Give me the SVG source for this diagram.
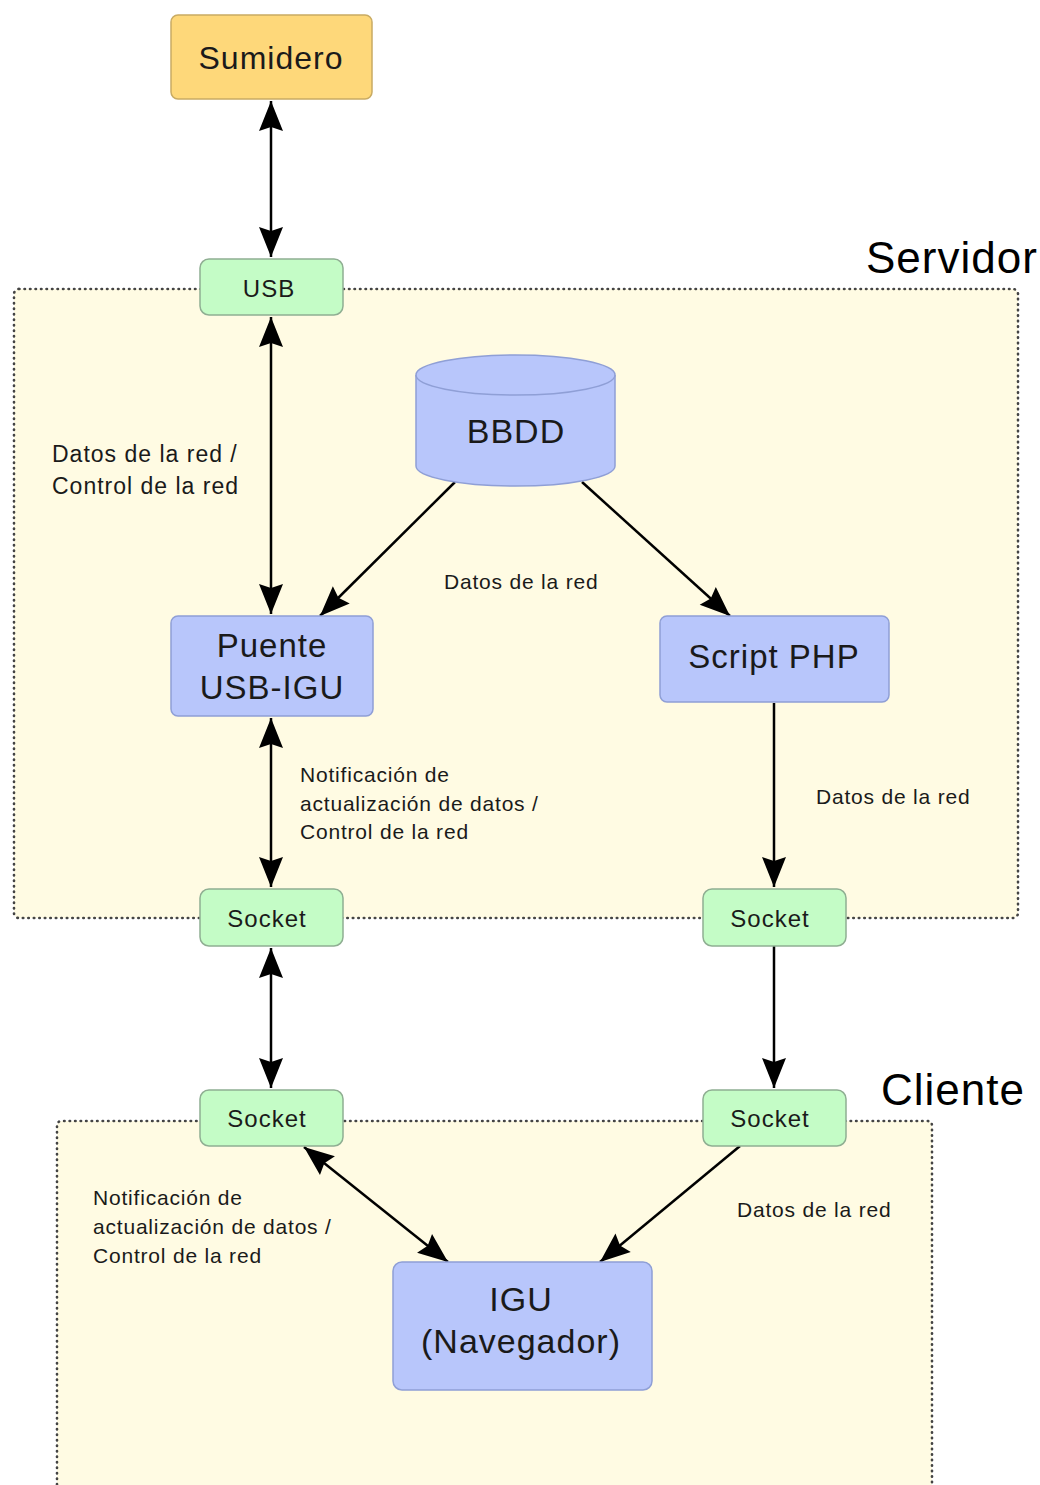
<svg xmlns="http://www.w3.org/2000/svg" width="1040" height="1485" viewBox="0 0 1040 1485">
  <style>
    .region { fill: #fffbe3; stroke: #444; stroke-width: 2.6; stroke-dasharray: 0.5 5; stroke-linecap: round; }
    .sink { fill: #fed87a; stroke: #c9ab63; stroke-width: 1.5; }
    .proc { fill: #b8c6fb; stroke: #8f9fd6; stroke-width: 1.5; }
    .port { fill: #c4fcc6; stroke: #8fae92; stroke-width: 1.5; }
    text { font-family: "Liberation Sans", Arial, sans-serif; fill: #1a1a1a; letter-spacing: 1px; }
    .big { font-size: 33px; text-anchor: middle; }
    .small { font-size: 24px; text-anchor: middle; }
    .lbl { font-size: 21px; letter-spacing: 0.8px; }
    .lbl2 { font-size: 23px; }
    .zone { font-size: 44px; fill: #000; }
    .edge { stroke: #000; stroke-width: 2.5; fill: none; }
  </style>
  <defs>
    <marker id="head" viewBox="-32 -14 34 28" refX="0" refY="0" markerWidth="34" markerHeight="28" markerUnits="userSpaceOnUse" orient="auto-start-reverse">
      <path d="M0,0 L-30,-12 L-26,0 L-30,12 Z" fill="#000"/>
    </marker>
  </defs>

  <!-- zones -->
  <rect class="region" x="14" y="289" width="1004" height="629" rx="5"/>
  <path class="region" d="M57,1490 V1126 Q57,1121 62,1121 H927 Q932,1121 932,1126 V1490"/>
  <text class="zone" x="866" y="273">Servidor</text>
  <text class="zone" x="881" y="1105">Cliente</text>

  <!-- connectors -->
  <g id="connectors">
    <line class="edge" x1="271" y1="101" x2="271" y2="257" marker-start="url(#head)" marker-end="url(#head)"/>
    <line class="edge" x1="271" y1="317" x2="271" y2="614" marker-start="url(#head)" marker-end="url(#head)"/>
    <line class="edge" x1="455" y1="482" x2="320" y2="616" marker-end="url(#head)"/>
    <line class="edge" x1="582" y1="482" x2="730" y2="616" marker-end="url(#head)"/>
    <line class="edge" x1="271" y1="718" x2="271" y2="887" marker-start="url(#head)" marker-end="url(#head)"/>
    <line class="edge" x1="774" y1="703" x2="774" y2="887" marker-end="url(#head)"/>
    <line class="edge" x1="271" y1="948" x2="271" y2="1088" marker-start="url(#head)" marker-end="url(#head)"/>
    <line class="edge" x1="774" y1="946" x2="774" y2="1088" marker-end="url(#head)"/>
    <line class="edge" x1="304" y1="1147" x2="448" y2="1262" marker-start="url(#head)" marker-end="url(#head)"/>
    <line class="edge" x1="740" y1="1146" x2="600" y2="1262" marker-end="url(#head)"/>
  </g>

  <!-- edge labels -->
  <text class="lbl2" x="52" y="462">Datos de la red /</text>
  <text class="lbl2" x="52" y="494">Control de la red</text>
  <text class="lbl" x="444" y="589">Datos de la red</text>
  <text class="lbl" x="300" y="782">Notificación de</text>
  <text class="lbl" x="300" y="811">actualización de datos /</text>
  <text class="lbl" x="300" y="839">Control de la red</text>
  <text class="lbl" x="816" y="804">Datos de la red</text>
  <text class="lbl" x="93" y="1205">Notificación de</text>
  <text class="lbl" x="93" y="1234">actualización de datos /</text>
  <text class="lbl" x="93" y="1263">Control de la red</text>
  <text class="lbl" x="737" y="1217">Datos de la red</text>

  <!-- nodes -->
  <g id="sumidero">
    <rect class="sink" x="171" y="15" width="201" height="84" rx="7"/>
    <text class="big" x="271" y="69" style="font-size:32px">Sumidero</text>
  </g>
  <g id="usb">
    <rect class="port" x="200" y="259" width="143" height="56" rx="9"/>
    <text class="small" x="269" y="297">USB</text>
  </g>
  <g id="bbdd">
    <path class="proc" d="M416,375 V466 A99.5,20 0 0 0 615,466 V375 A99.5,20 0 0 0 416,375 Z"/>
    <path class="proc" d="M416,375 A99.5,20 0 0 0 615,375" fill="none"/>
    <text class="big" x="516" y="443" style="font-size:34px">BBDD</text>
  </g>
  <g id="puente">
    <rect class="proc" x="171" y="616" width="202" height="100" rx="7"/>
    <text class="big" x="272" y="657">Puente</text>
    <text class="big" x="272" y="699">USB-IGU</text>
  </g>
  <g id="script-php">
    <rect class="proc" x="660" y="616" width="229" height="86" rx="7"/>
    <text class="big" x="774" y="668">Script PHP</text>
  </g>
  <g id="socket-srv-izq">
    <rect class="port" x="200" y="889" width="143" height="57" rx="9"/>
    <text class="small" x="267" y="927">Socket</text>
  </g>
  <g id="socket-srv-der">
    <rect class="port" x="703" y="889" width="143" height="57" rx="9"/>
    <text class="small" x="770" y="927">Socket</text>
  </g>
  <g id="socket-cli-izq">
    <rect class="port" x="200" y="1090" width="143" height="56" rx="9"/>
    <text class="small" x="267" y="1127">Socket</text>
  </g>
  <g id="socket-cli-der">
    <rect class="port" x="703" y="1090" width="143" height="56" rx="9"/>
    <text class="small" x="770" y="1127">Socket</text>
  </g>
  <g id="igu">
    <rect class="proc" x="393" y="1262" width="259" height="128" rx="9"/>
    <text class="big" x="521" y="1311" style="font-size:34px">IGU</text>
    <text class="big" x="521" y="1353" style="font-size:34px">(Navegador)</text>
  </g>
</svg>
